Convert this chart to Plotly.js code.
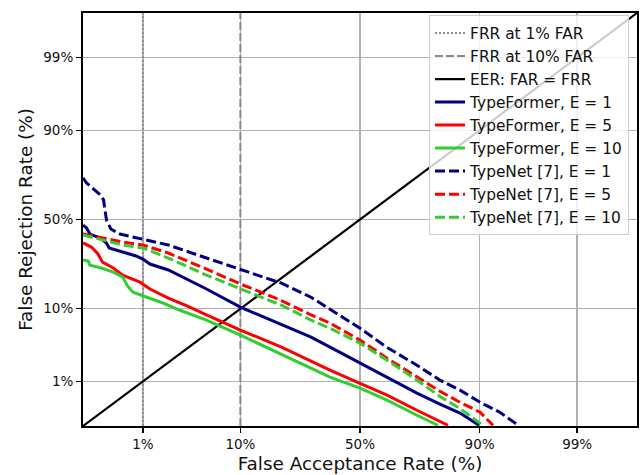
<!DOCTYPE html>
<html><head><meta charset="utf-8">
<script src="https://cdn.plot.ly/plotly-3.0.1.min.js"></script>
<style>html,body{margin:0;padding:0;background:#fff}</style>
</head><body><div id="chart" style="width:641px;height:475px"></div>
<script>
// ---- data (percentages) ----
const tickPercents = [1, 10, 50, 90, 99];
const tickLabels = ['1%', '10%', '50%', '90%', '99%'];
const axisLimitsPct = [0.15, 99.85];
const farRefs = [1, 10];

const tfE1_far = [0.15,0.17,0.19,0.27,0.33,0.36,0.55,0.82,1.0,1.22,2.0,2.89,5,10,20,30,37.4,50,61.4,72.9,80.4,85.8,89.9];
const tfE1_frr = [46.8,45.1,41.7,39.5,36.8,34.1,32.0,30.0,28.5,26.1,23.4,20.4,15.9,10.4,6.6,4.54,3.33,1.95,1.17,0.63,0.40,0.27,0.155];

const tfE5_far = [0.15,0.20,0.25,0.27,0.29,0.41,0.55,0.92,1.22,2.0,3.19,5,10,20,30,37.4,50,61.4,72.9,80.4,82.7];
const tfE5_frr = [36.8,34.6,31.0,28.5,27.0,24.3,21.2,18.4,15.9,12.9,10.7,8.5,5.6,3.33,2.09,1.52,0.93,0.58,0.306,0.187,0.155];

const tfE10_far = [0.15,0.18,0.19,0.28,0.41,0.55,0.64,0.75,1.12,1.74,2.69,5,10,20,30,37.4,50,61.4,72.9,79.8];
const tfE10_frr = [28.0,27.5,25.6,24.3,22.5,20.4,16.9,14.8,13.2,11.5,9.6,7.4,4.83,2.65,1.63,1.17,0.77,0.47,0.245,0.155];

const tnE1_far = [0.15,0.17,0.27,0.30,0.33,0.38,0.505,1,2,5,10,20,30,37.4,50,61.4,72.9,80.4,85.8,90.1,93.3,95.5];
const tnE1_frr = [72.5,70.0,63.8,61.1,49.7,44.6,41.7,38.9,35.7,29.0,23.8,18.0,13.2,9.9,5.9,3.3,1.81,1.05,0.71,0.43,0.28,0.155];

const tnE5_far = [0.15,0.29,0.55,1,2,5,10,20,30,37.4,50,61.4,72.9,80.4,85.8,90.1,92.3];
const tnE5_frr = [41.7,39.5,37.3,35.7,31.5,23.8,17.7,12.2,8.5,6.8,4.15,2.31,1.17,0.68,0.43,0.28,0.155];

const tnE10_far = [0.15,0.29,0.55,1,2,5,10,20,30,37.4,50,61.4,72.9,80.4,85.8,90.6];
const tnE10_frr = [41.2,38.4,35.7,34.1,29.0,21.2,15.9,10.9,7.4,5.9,3.78,2.16,1.05,0.55,0.33,0.155];

// ---- normal deviate (probit) scale ----
function probit(pct) {
  const p = pct / 100;
  const a = [-3.969683028665376e+01, 2.209460984245205e+02, -2.759285104469687e+02, 1.383577518672690e+02, -3.066479806614716e+01, 2.506628277459239e+00];
  const b = [-5.447609879822406e+01, 1.615858368580409e+02, -1.556989798598866e+02, 6.680131188771972e+01, -1.328068155288572e+01];
  const c = [-7.784894002430293e-03, -3.223964580411365e-01, -2.400758277161838e+00, -2.549732539343734e+00, 4.374664141464968e+00, 2.938163982698783e+00];
  const d = [7.784695709041462e-03, 3.224671290700398e-01, 2.445134137142996e+00, 3.754408661907416e+00];
  const plow = 0.02425, phigh = 1 - plow;
  let q, r;
  if (p < plow) {
    q = Math.sqrt(-2 * Math.log(p));
    return (((((c[0]*q+c[1])*q+c[2])*q+c[3])*q+c[4])*q+c[5]) / ((((d[0]*q+d[1])*q+d[2])*q+d[3])*q+1);
  } else if (p <= phigh) {
    q = p - 0.5; r = q * q;
    return (((((a[0]*r+a[1])*r+a[2])*r+a[3])*r+a[4])*r+a[5])*q / (((((b[0]*r+b[1])*r+b[2])*r+b[3])*r+b[4])*r+1);
  } else {
    q = Math.sqrt(-2 * Math.log(1 - p));
    return -(((((c[0]*q+c[1])*q+c[2])*q+c[3])*q+c[4])*q+c[5]) / ((((d[0]*q+d[1])*q+d[2])*q+d[3])*q+1);
  }
}
const P = arr => arr.map(probit);

const NAVY = '#000080', RED = '#ff0000', GREEN = '#32cd32';
const W = 3;
const DASH = '10px,4px';

const traces = [
  {x: P([farRefs[0], farRefs[0]]), y: P(axisLimitsPct), name: 'FRR at 1% FAR', mode: 'lines',
   line: {color: '#909090', width: 2, dash: '2px,2px'}},
  {x: P([farRefs[1], farRefs[1]]), y: P(axisLimitsPct), name: 'FRR at 10% FAR', mode: 'lines',
   line: {color: '#888888', width: 2, dash: '8px,3px'}},
  {x: P(axisLimitsPct), y: P(axisLimitsPct), name: 'EER: FAR = FRR', mode: 'lines',
   line: {color: '#000000', width: 2.2}},
  {x: P(tfE1_far), y: P(tfE1_frr), name: 'TypeFormer, E = 1', mode: 'lines', line: {color: NAVY, width: W}},
  {x: P(tfE5_far), y: P(tfE5_frr), name: 'TypeFormer, E = 5', mode: 'lines', line: {color: RED, width: W}},
  {x: P(tfE10_far), y: P(tfE10_frr), name: 'TypeFormer, E = 10', mode: 'lines', line: {color: GREEN, width: W}},
  {x: P(tnE1_far), y: P(tnE1_frr), name: 'TypeNet [7], E = 1', mode: 'lines', line: {color: NAVY, width: W, dash: DASH}},
  {x: P(tnE5_far), y: P(tnE5_frr), name: 'TypeNet [7], E = 5', mode: 'lines', line: {color: RED, width: W, dash: DASH}},
  {x: P(tnE10_far), y: P(tnE10_frr), name: 'TypeNet [7], E = 10', mode: 'lines', line: {color: GREEN, width: W, dash: DASH}}
];

const FONT = 'DejaVu Sans, sans-serif';
const axisCommon = {
  range: P(axisLimitsPct),
  tickmode: 'array', tickvals: P(tickPercents), ticktext: tickLabels,
  showgrid: true, gridcolor: '#b0b0b0', gridwidth: 1.5,
  zeroline: false, showline: true, linecolor: '#000', linewidth: 2, mirror: true,
  ticks: 'outside', ticklen: 5, tickwidth: 1.5, tickcolor: '#000',
  tickfont: {family: FONT, size: 13.5, color: '#111'},
  automargin: false
};

const layout = {
  width: 641, height: 475,
  margin: {l: 83, r: 4, t: 13, b: 49},
  paper_bgcolor: '#fff', plot_bgcolor: '#fff',
  font: {family: FONT, color: '#111'},
  showlegend: true,
  legend: {
    x: 0.9856, xanchor: 'right', y: 0.994, yanchor: 'top',
    bgcolor: 'rgba(255,255,255,0.8)', bordercolor: '#cccccc', borderwidth: 1,
    font: {family: FONT, size: 15.4, color: '#111'}
  },
  xaxis: Object.assign({}, axisCommon, {
    title: {text: 'False Acceptance Rate (%)', font: {family: FONT, size: 18.4, color: '#111'}, standoff: 6}
  }),
  yaxis: Object.assign({}, axisCommon, {
    title: {text: 'False Rejection Rate (%)', font: {family: FONT, size: 18.4, color: '#111'}, standoff: 6}
  })
};

Plotly.newPlot('chart', traces, layout, {displayModeBar: false, staticPlot: true});
</script>
</body></html>
